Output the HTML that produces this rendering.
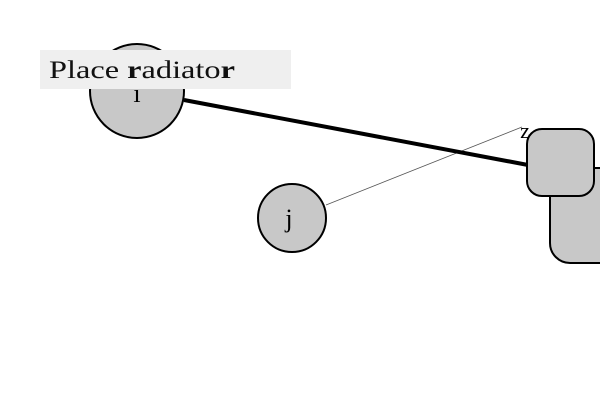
<!DOCTYPE html>
<html><head><meta charset="utf-8"><style>
html,body{margin:0;padding:0;background:#fff;width:600px;height:400px;overflow:hidden}
text{font-family:"Liberation Serif",serif}
</style></head><body>
<svg width="600" height="400" viewBox="0 0 600 400">
  <line x1="326" y1="205" x2="522" y2="127" stroke="#555" stroke-width="0.8"/>
  <line x1="184" y1="100" x2="528" y2="165" stroke="#000" stroke-width="4"/>
  <rect x="550" y="168" width="80" height="95" rx="20" fill="#c8c8c8" stroke="#000" stroke-width="2"/>
  <rect x="527" y="129" width="67" height="67" rx="15" fill="#c8c8c8" stroke="#000" stroke-width="2"/>
  <circle cx="137" cy="91" r="47" fill="#c8c8c8" stroke="#000" stroke-width="2"/>
  <text x="137" y="102" font-size="26" text-anchor="middle">i</text>
  <circle cx="292" cy="218" r="34" fill="#c8c8c8" stroke="#000" stroke-width="2"/>
  <text x="289" y="227" font-size="26" text-anchor="middle">j</text>
  <text x="525" y="138" font-size="22" text-anchor="middle">z</text>
  <rect x="40" y="50" width="251" height="39" fill="#efefef"/>
  <text x="49" y="78" font-size="25" fill="#111" textLength="186" lengthAdjust="spacingAndGlyphs">Place <tspan font-weight="bold">r</tspan>adiato<tspan font-weight="bold">r</tspan></text>
</svg>
</body></html>
